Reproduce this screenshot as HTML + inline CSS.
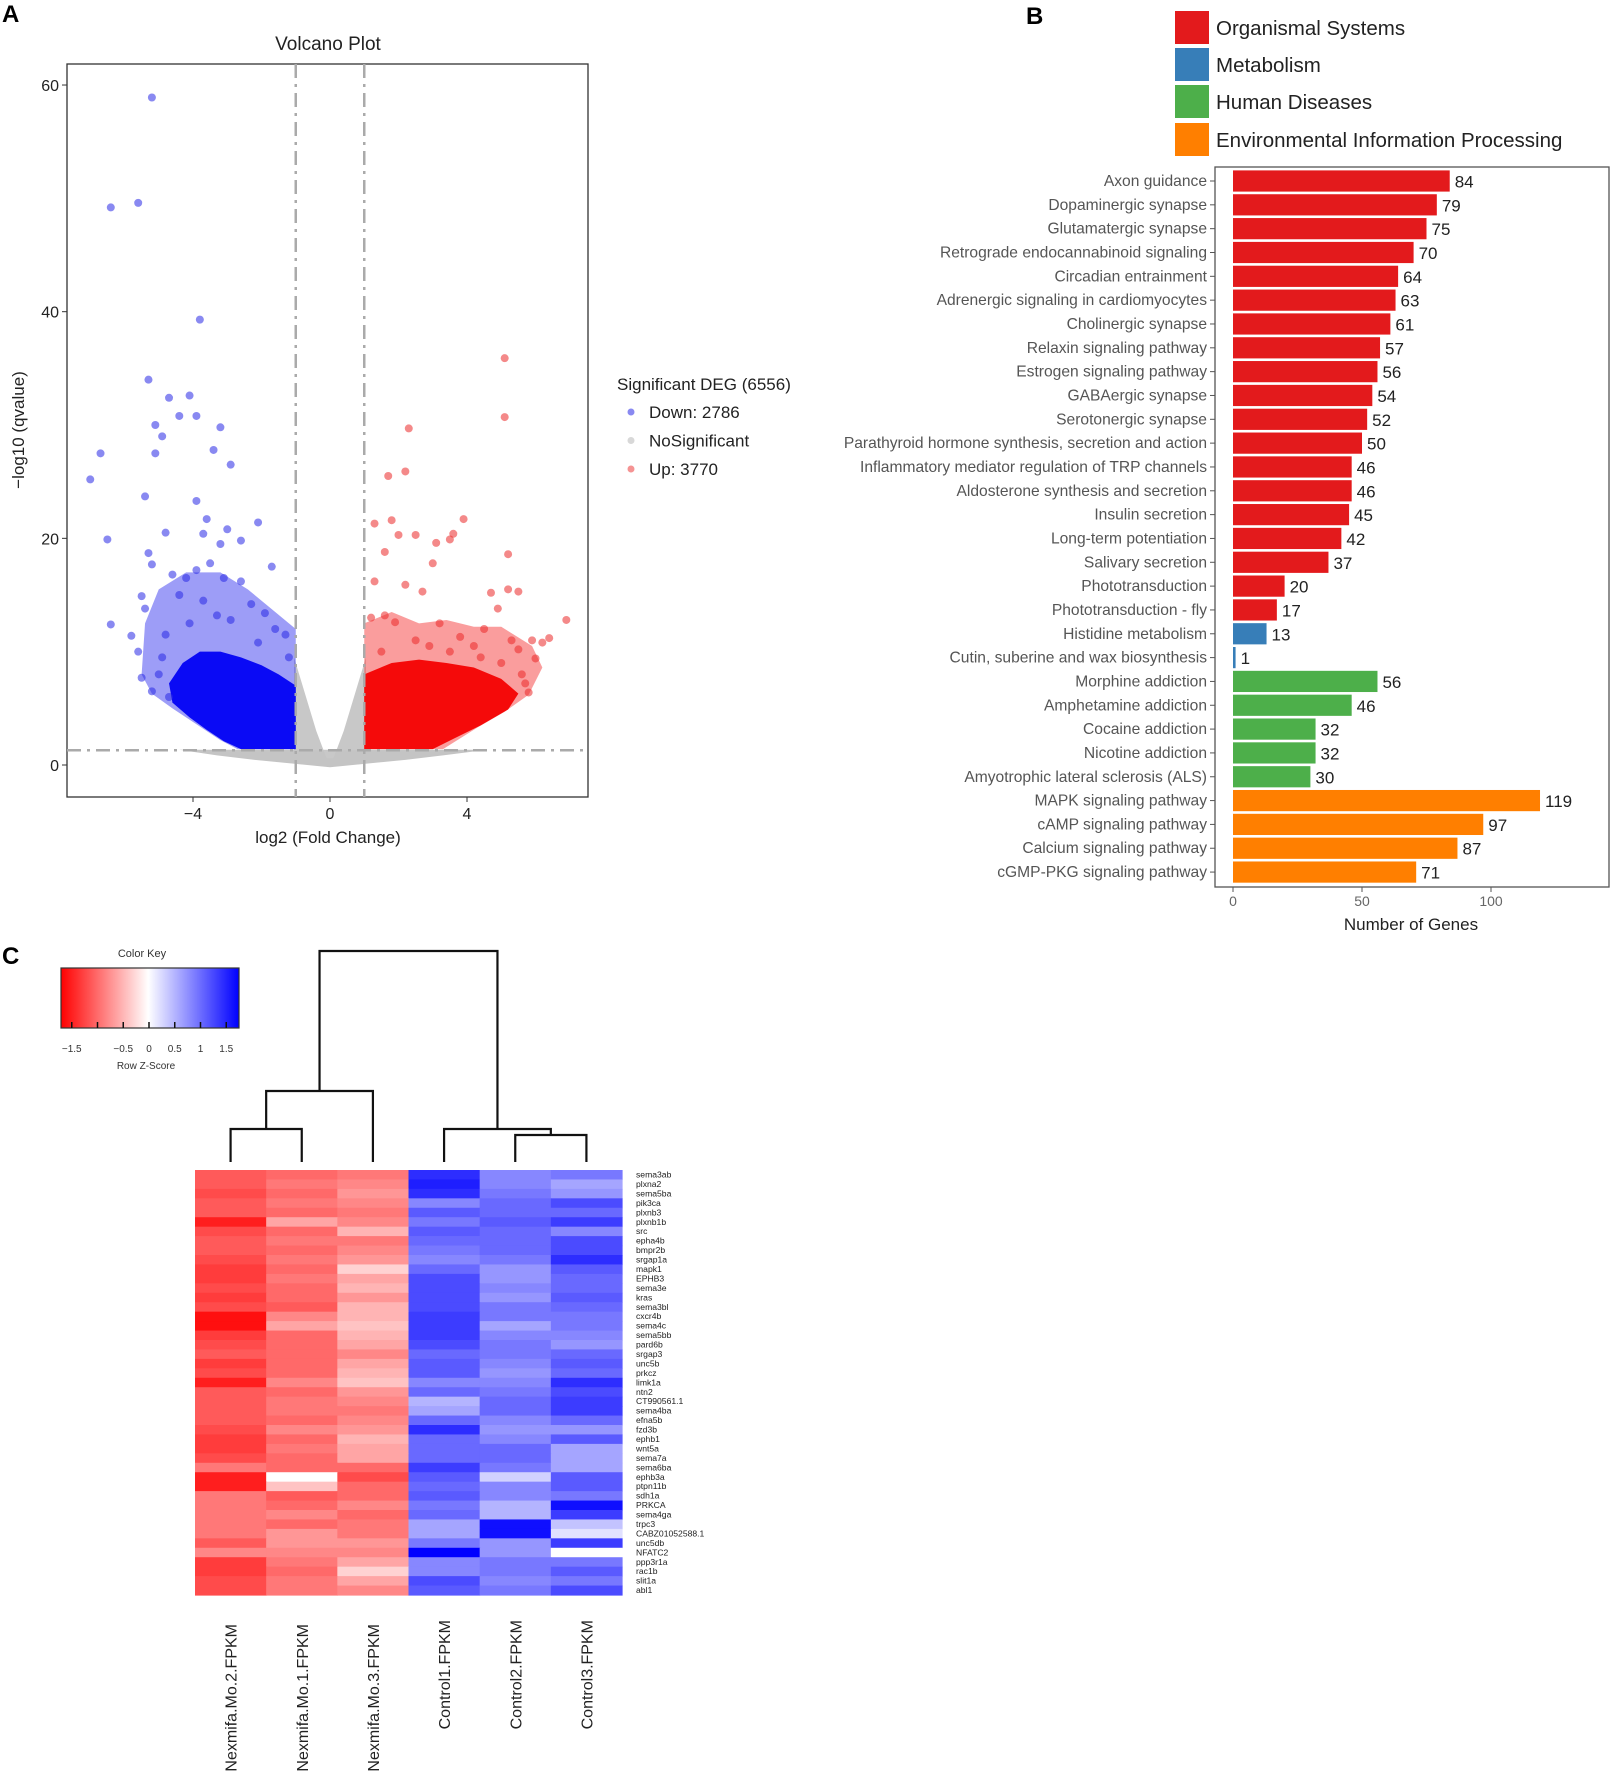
<!DOCTYPE html>
<html><head><meta charset="utf-8"><style>
html,body{margin:0;padding:0;background:#fff}
svg{display:block;font-family:"Liberation Sans",sans-serif}
</style></head><body>
<svg id="fig" width="1616" height="1772" viewBox="0 0 1616 1772" xmlns="http://www.w3.org/2000/svg">
<text x="2" y="22" font-size="24" font-weight="bold">A</text>
<text x="1026" y="24" font-size="24" font-weight="bold">B</text>
<text x="2" y="964" font-size="24" font-weight="bold">C</text>
<g id="volcano"></g>
<g id="bars"></g>
<g id="heat"></g>
</svg>
<script>
// ---------- Volcano data ----------
const downPoints=[[-5.2,58.9],[-6.4,49.2],[-5.6,49.6],[-3.8,39.3],[-5.3,34],[-4.7,32.4],[-4.1,32.6],[-5.1,30],[-4.4,30.8],[-3.9,30.8],[-3.2,29.8],[-4.9,29],[-6.7,27.5],[-5.1,27.5],[-3.4,27.8],[-2.9,26.5],[-7.0,25.2],[-5.4,23.7],[-3.9,23.3],[-3.6,21.7],[-2.1,21.4],[-4.8,20.5],[-3.7,20.4],[-3.0,20.8],[-6.5,19.9],[-2.6,19.8],[-3.2,19.5],[-5.3,18.7],[-5.2,17.7],[-1.7,17.5],[-6.4,12.4],[-5.8,11.4],[-5.5,14.9],[-5.4,13.8],[-5.5,7.7],[-4.6,16.8],[-4.2,16.5],[-3.9,17.2],[-3.5,17.8],[-3.1,16.5],[-2.6,16.2],[-4.4,15],[-3.7,14.5],[-2.3,14.2],[-1.6,12],[-1.3,11.5],[-2.1,10.8],[-4.9,9.5],[-5.0,8],[-5.2,6.5],[-4.7,6],[-1.2,9.5],[-3.3,13.2],[-4.1,12.5],[-2.9,12.8],[-1.9,13.4],[-5.6,10],[-4.8,11.5]];
const upPoints=[[5.1,35.9],[5.1,30.7],[2.3,29.7],[1.7,25.5],[2.2,25.9],[3.9,21.7],[1.3,21.3],[1.8,21.6],[2.0,20.3],[2.5,20.3],[3.1,19.6],[3.5,19.9],[3.6,20.4],[1.6,18.8],[5.2,18.6],[3.0,17.8],[1.3,16.2],[2.2,15.9],[2.7,15.3],[4.7,15.2],[5.2,15.5],[5.5,15.3],[6.9,12.8],[6.4,11.2],[6.0,9.4],[5.6,8],[5.7,7.2],[5.8,6.4],[4.9,13.8],[4.5,12],[3.8,11.3],[3.2,12.5],[2.5,11],[1.6,13.2],[1.9,12.6],[1.2,13],[4.2,10.5],[5.3,11],[5.5,10.2],[6.2,10.8],[3.5,10],[2.9,10.5],[1.5,10],[5.0,9],[4.4,9.5],[5.9,11]];
const downCore=[[-1,1.4],[-1,7],[-1.5,8],[-2,8.8],[-2.6,9.5],[-3.2,10],[-3.8,10],[-4.3,9],[-4.7,7.2],[-4.6,5.5],[-4.1,4.2],[-3.6,3.1],[-3.1,2.1],[-2.6,1.4]];
const downHalo=[[-1,1.4],[-1,12],[-1.6,13.5],[-2.4,15.5],[-3.2,17],[-4.2,17],[-5.0,15.5],[-5.4,12.5],[-5.5,8],[-5.2,6.3],[-4.6,5],[-3.8,3.4],[-3.2,2.2],[-2.7,1.4]];
const upCore=[[1,1.4],[1,8],[1.8,9],[2.6,9.3],[3.4,9],[4.2,8.6],[5,7.6],[5.5,6.3],[5.2,4.9],[4.4,3.5],[3.6,2.3],[3.0,1.4]];
const upHalo=[[1,1.4],[1,12.5],[1.8,13.5],[2.6,12.5],[3.4,12.8],[4.2,12.2],[5,12.2],[5.9,10.5],[6.2,8.6],[5.8,6.2],[5.1,4.7],[4.3,3.3],[3.3,1.4]];
const grayV=[[-1.05,1.3],[-1.05,9.5],[-0.75,6.5],[-0.4,3],[-0.1,0.6],[0.1,0.6],[0.4,3],[0.75,6.5],[1.05,9.5],[1.05,1.3]];
const grayBand=[[-4.4,1.35],[-3.3,0.85],[-2.2,0.45],[-1,0.1],[0,-0.2],[1,0.1],[2.2,0.45],[3.3,0.85],[4.6,1.35]];
const volXTicks=[-4,0,4];
const volYTicks=[0,20,40,60];
const legendLabels=["Down: 2786","NoSignificant","Up: 3770"];

// ---------- Bar data ----------
const pathways=["Axon guidance","Dopaminergic synapse","Glutamatergic synapse","Retrograde endocannabinoid signaling","Circadian entrainment","Adrenergic signaling in cardiomyocytes","Cholinergic synapse","Relaxin signaling pathway","Estrogen signaling pathway","GABAergic synapse","Serotonergic synapse","Parathyroid hormone synthesis, secretion and action","Inflammatory mediator regulation of TRP channels","Aldosterone synthesis and secretion","Insulin secretion","Long-term potentiation","Salivary secretion","Phototransduction","Phototransduction - fly","Histidine metabolism","Cutin, suberine and wax biosynthesis","Morphine addiction","Amphetamine addiction","Cocaine addiction","Nicotine addiction","Amyotrophic lateral sclerosis (ALS)","MAPK signaling pathway","cAMP signaling pathway","Calcium signaling pathway","cGMP-PKG signaling pathway"];
const geneCounts=[84,79,75,70,64,63,61,57,56,54,52,50,46,46,45,42,37,20,17,13,1,56,46,32,32,30,119,97,87,71];
const pathwayGroup=[0,0,0,0,0,0,0,0,0,0,0,0,0,0,0,0,0,0,0,1,1,2,2,2,2,2,3,3,3,3];
const groupNames=["Organismal Systems","Metabolism","Human Diseases","Environmental Information Processing"];
const barXTicks=[0,50,100];

// ---------- Heatmap data ----------
const samples=["Nexmifa.Mo.2.FPKM","Nexmifa.Mo.1.FPKM","Nexmifa.Mo.3.FPKM","Control1.FPKM","Control2.FPKM","Control3.FPKM"];
const genes=["sema3ab","plxna2","sema5ba","pik3ca","plxnb3","plxnb1b","src","epha4b","bmpr2b","srgap1a","mapk1","EPHB3","sema3e","kras","sema3bl","cxcr4b","sema4c","sema5bb","pard6b","srgap3","unc5b","prkcz","limk1a","ntn2","CT990561.1","sema4ba","efna5b","fzd3b","ephb1","wnt5a","sema7a","sema6ba","ephb3a","ptpn11b","sdh1a","PRKCA","sema4ga","trpc3","CABZ01052588.1","unc5db","NFATC2","ppp3r1a","rac1b","slit1a","abl1"];
const zScores=[
[-1.1,-1.0,-0.9,1.4,0.8,0.9],[-1.1,-0.9,-0.8,1.5,0.8,0.6],[-1.2,-1.0,-0.7,1.4,0.9,0.7],[-1.1,-0.9,-0.8,0.8,1.0,1.2],[-1.1,-1.0,-0.9,1.1,1.0,1.0],
[-1.5,-0.6,-0.8,0.9,1.1,1.3],[-1.2,-1.0,-0.5,1.1,1.0,0.8],[-1.1,-0.9,-0.9,1.0,1.0,1.2],[-1.1,-1.0,-0.8,0.9,1.0,1.2],[-1.2,-0.9,-0.7,0.8,0.9,1.4],
[-1.3,-1.0,-0.3,1.0,0.7,1.1],[-1.3,-0.9,-0.6,1.2,0.7,1.0],[-1.2,-1.0,-0.5,1.2,0.8,1.0],[-1.3,-1.0,-0.7,1.2,0.7,1.1],[-1.2,-1.1,-0.5,1.2,0.9,1.0],
[-1.6,-0.8,-0.5,1.3,0.9,0.9],[-1.6,-0.6,-0.4,1.3,0.6,0.9],[-1.3,-1.0,-0.5,1.3,0.8,0.8],[-1.2,-1.0,-0.6,1.2,0.9,0.7],[-1.1,-1.0,-0.8,1.0,0.9,1.0],
[-1.3,-1.0,-0.6,1.1,0.8,1.1],[-1.2,-1.0,-0.5,1.1,0.7,1.0],[-1.5,-0.8,-0.4,0.8,0.8,1.4],[-1.1,-1.0,-0.7,1.0,0.9,1.2],[-1.1,-0.9,-0.8,0.5,1.0,1.3],
[-1.1,-0.9,-0.9,0.6,1.0,1.3],[-1.1,-1.0,-0.8,1.0,0.8,1.0],[-1.2,-0.8,-0.7,1.4,0.7,0.7],[-1.3,-1.0,-0.5,1.0,0.8,1.1],[-1.3,-0.9,-0.6,1.0,1.0,0.6],
[-1.2,-1.0,-0.6,1.0,1.0,0.6],[-0.9,-1.0,-1.0,1.3,0.9,0.6],[-1.5,0.0,-1.2,1.1,0.3,1.1],[-1.5,-0.4,-1.0,1.0,0.8,1.1],[-0.9,-1.1,-1.0,1.1,0.8,0.9],
[-0.9,-1.0,-0.8,0.9,0.5,1.6],[-0.9,-0.8,-1.0,1.0,0.5,1.3],[-0.9,-1.0,-0.9,0.6,1.6,0.4],[-0.9,-0.7,-0.9,0.6,1.6,0.2],[-1.1,-0.7,-0.7,0.9,0.7,1.3],
[-0.8,-0.8,-0.8,1.7,0.7,0.0],[-1.3,-0.9,-0.6,0.8,0.9,0.9],[-1.3,-1.0,-0.3,0.8,0.9,1.1],[-1.2,-0.9,-0.6,1.2,0.8,0.9],[-1.2,-0.9,-0.8,1.1,0.9,1.2]];
const keyTicks=[-1.5,-1,-0.5,0,0.5,1,1.5];
const keyTickLabels=["\u22121.5","","\u22120.5","0","0.5","1","1.5"];

const NS="http://www.w3.org/2000/svg";
function mk(tag,attrs,parent,txt){const e=document.createElementNS(NS,tag);for(const k in attrs)e.setAttribute(k,attrs[k]);if(txt!==undefined)e.textContent=txt;parent.appendChild(e);return e;}

// ---------- Volcano ----------
(function(){
const g=document.getElementById('volcano');
const L=67,R=588,T=64,B=797;
const X=v=>330+v*34.25, Y=v=>765-v*11.333;
const fr=mk('rect',{x:L,y:T,width:R-L,height:B-T,fill:'#fff',stroke:'#333','stroke-width':1.3},g);


const poly=(pts,fill,name)=>{const p=mk('polygon',{points:pts.map(d=>X(d[0])+','+Y(d[1])).join(' '),fill:fill,'stroke-linejoin':'round'},g);

};
poly(grayBand,'#c4c4c4','nosig-band');
poly(grayV,'#c8c8c8','nosig-v');
poly(downHalo,'rgba(60,60,240,0.5)','down-cloud-halo');
poly(downCore,'#0a0af5','down-cloud-core');
poly(upHalo,'rgba(245,60,60,0.5)','up-cloud-halo');
poly(upCore,'#f50a0a','up-cloud-core');
downPoints.forEach(d=>{const c=mk('circle',{cx:X(d[0]),cy:Y(d[1]),r:4,fill:'rgba(40,40,230,0.55)'},g);

});
upPoints.forEach(d=>{const c=mk('circle',{cx:X(d[0]),cy:Y(d[1]),r:4,fill:'rgba(235,40,40,0.55)'},g);

});
[-1,1].forEach(v=>{const l=mk('line',{x1:X(v),x2:X(v),y1:T,y2:B,stroke:'#aaa','stroke-width':2.5,'stroke-dasharray':'14 6 3 6'},g);

});
const hl=mk('line',{x1:L,x2:R,y1:Y(1.3),y2:Y(1.3),stroke:'#aaa','stroke-width':2.5,'stroke-dasharray':'14 6 3 6'},g);


volXTicks.forEach(v=>{mk('line',{x1:X(v),x2:X(v),y1:B,y2:B+5,stroke:'#333'},g);const t=mk('text',{x:X(v),y:B+22,'font-size':16,'text-anchor':'middle',fill:'#222'},g,v<0?'\u2212'+(-v):String(v));

});
volYTicks.forEach(v=>{mk('line',{x1:L-5,x2:L,y1:Y(v),y2:Y(v),stroke:'#333'},g);const t=mk('text',{x:L-8,y:Y(v)+6,'font-size':16,'text-anchor':'end',fill:'#222'},g,String(v));

});
let t=mk('text',{x:328,y:50,'font-size':19,'text-anchor':'middle',fill:'#222'},g,'Volcano Plot');


t=mk('text',{x:328,y:843,'font-size':17,'text-anchor':'middle',fill:'#222'},g,'log2 (Fold Change)');


t=mk('text',{x:24,y:430,'font-size':17,'text-anchor':'middle',fill:'#222',transform:'rotate(-90 24 430)'},g,'\u2212log10 (qvalue)');


t=mk('text',{x:617,y:390,'font-size':17,fill:'#222'},g,'Significant DEG (6556)');


const lc=['rgba(40,40,230,0.55)','#d8d8d8','rgba(235,40,40,0.5)'];
legendLabels.forEach((s,i)=>{const yy=412+i*28.5;const c=mk('circle',{cx:631,cy:yy,r:3.5,fill:lc[i]},g);


const tt=mk('text',{x:649,y:yy+6,'font-size':17,fill:'#222'},g,s);

});
})();

// ---------- Bars ----------
(function(){
const g=document.getElementById('bars');
const colors=['#e31a1c','#377eb8','#4daf4a','#ff7f00'];
const L=1215,R=1609,T=167,B=887;
const X=v=>1233+v*2.58;
const Yc=i=>181+i*23.83;
groupNames.forEach((s,i)=>{const yy=[11,48,85,123][i];const r=mk('rect',{x:1175,y:yy,width:34,height:33,fill:colors[i]},g);


const t=mk('text',{x:1216,y:yy+24,'font-size':20.5,fill:'#222'},g,s);

});
const fr=mk('rect',{x:L,y:T,width:R-L,height:B-T,fill:'#fff',stroke:'#555','stroke-width':1.3},g);


pathways.forEach((p,i)=>{
 const yc=Yc(i),v=geneCounts[i];
 const r=mk('rect',{x:X(0),y:yc-10.6,width:Math.max(X(v)-X(0),1.8),height:21.2,fill:colors[pathwayGroup[i]]},g);
 
 
 const vt=mk('text',{x:X(v)+5,y:yc+6.5,'font-size':17,fill:'#222'},g,String(v));
 
 
 mk('line',{x1:L-5,x2:L,y1:yc,y2:yc,stroke:'#555'},g);
 const lt=mk('text',{x:1207,y:yc+5,'font-size':15.6,'text-anchor':'end',fill:'#555'},g,p);
 
 
});
barXTicks.forEach(v=>{mk('line',{x1:X(v),x2:X(v),y1:B,y2:B+5,stroke:'#555'},g);const t=mk('text',{x:X(v),y:906,'font-size':14,'text-anchor':'middle',fill:'#666'},g,String(v));

});
const t=mk('text',{x:1411,y:930,'font-size':17,'text-anchor':'middle',fill:'#222'},g,'Number of Genes');


})();

// ---------- Heatmap ----------
(function(){
const g=document.getElementById('heat');
const L=195,R=622,T=1170,B=1595;
const cw=(R-L)/samples.length, rh=(B-T)/genes.length;
function col(z){const m=1.7;let t=Math.max(-1,Math.min(1,z/m));if(t<0){const a=-t;return 'rgb(255,'+Math.round(255*(1-a))+','+Math.round(255*(1-a))+')';}return 'rgb('+Math.round(255*(1-t))+','+Math.round(255*(1-t))+',255)';}
genes.forEach((gn,r)=>{
 samples.forEach((s,c)=>{const e=mk('rect',{x:L+c*cw,y:T+r*rh,width:cw+0.6,height:rh+0.6,fill:col(zScores[r][c])},g);
 
 });
 const t=mk('text',{x:636,y:T+r*rh+rh*0.8,'font-size':8.6,fill:'#222'},g,gn);
 
 
});
samples.forEach((s,c)=>{const x=L+(c+0.5)*cw+6;const y=c<3?1624:1620;const t=mk('text',{x:x,y:y,'font-size':16,'text-anchor':'end',fill:'#222',transform:'rotate(-90 '+x+' '+y+')'},g,s);

});
const cx=c=>L+(c+0.5)*cw;
const dg=mk('g',{stroke:'#111','stroke-width':2.2,fill:'none'},g);


const path=d=>mk('path',{d:d},dg);
path('M'+cx(0)+' 1162 V1129 H'+cx(1)+' V1162');
const m01=(cx(0)+cx(1))/2;
path('M'+m01+' 1129 V1091 H'+cx(2)+' V1162');
path('M'+cx(4)+' 1162 V1135 H'+cx(5)+' V1162');
const m45=(cx(4)+cx(5))/2;
path('M'+cx(3)+' 1162 V1129 H'+m45+' V1135');
const mL=(m01+cx(2))/2, mR=(cx(3)+m45)/2;
path('M'+mL+' 1091 V951 H'+mR+' V1129');
const KL=61,KR=239,KT=968,KB=1028;
const KX=v=>149+v*51.5;
const defs=mk('defs',{},g);
const lg=mk('linearGradient',{id:'kg',x1:0,x2:1,y1:0,y2:0},defs);
mk('stop',{offset:'0','stop-color':'#ff0000'},lg);
mk('stop',{offset:'0.49','stop-color':'#ffffff'},lg);
mk('stop',{offset:'1','stop-color':'#0000ff'},lg);
const kr=mk('rect',{x:KL,y:KT,width:KR-KL,height:KB-KT,fill:'url(#kg)',stroke:'#333','stroke-width':1.2},g);


keyTicks.forEach((v,i)=>{mk('line',{x1:KX(v),x2:KX(v),y1:KB,y2:KB-6,stroke:'#111','stroke-width':1.5},g);const t=mk('text',{x:KX(v),y:1052,'font-size':10,'text-anchor':'middle',fill:'#333'},g,keyTickLabels[i]);

});
let t=mk('text',{x:142,y:957,'font-size':11,'text-anchor':'middle',fill:'#333'},g,'Color Key');


t=mk('text',{x:146,y:1069,'font-size':10,'text-anchor':'middle',fill:'#333'},g,'Row Z-Score');


})();
</script>
</body></html>
